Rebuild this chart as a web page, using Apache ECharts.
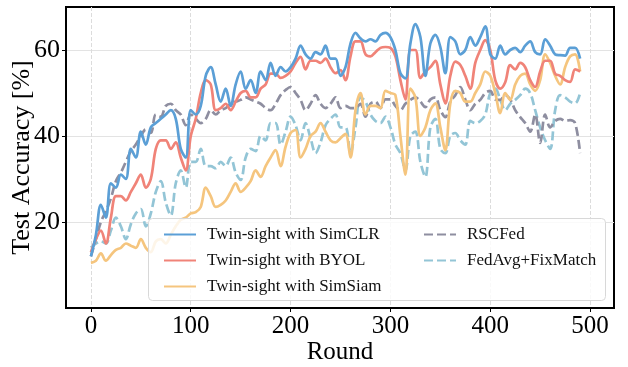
<!DOCTYPE html>
<html>
<head>
<meta charset="utf-8">
<script src="https://cdn.jsdelivr.net/npm/echarts@6/dist/echarts.min.js"></script>
<style>
html,body{margin:0;padding:0;background:#fff;}
#chart{width:628px;height:367px;}
</style>
</head>
<body>
<div id="chart"></div>
<script>
// Rounds (every 5 rounds)
const rounds = [];
for (let r = 0; r <= 490; r += 5) rounds.push(r);

const xTicks = [0, 100, 200, 300, 400, 500];
const yTicks = [20, 40, 60];

const simclr = [12,17,24,21,29,28,31,30,37,35,41,38,42,43,44,45,46,44,37,35,
  46,45,47,54,56,52,48,51,47,52,55,51,53,50,55,53,57,54,56,55,
  56,58,61,59,58,59.5,59,61,58,58,54,56,61.5,64,62.7,62,62.5,62,63.5,64,
  63,60,54.6,53.4,61.5,66,63,54,61.5,63.5,60.7,54.6,63,62,59,60,63,61,63,65.5,
  59,58,61,59,60,60.5,59.5,61,62,59.5,59,62.5,61,59,58.8,58.7,60.5,60.5,58];

const byol = [13,16,18,15,21,26,26,25,27,29,31,28,30,37,39,39,37,38.5,35,32,
  40,44,50,53,52,46,46.5,47.5,46,48,50,50.5,49,49,51,52,54.5,54.5,53.5,54,
  55,57,58.4,55.5,57.5,57.5,57,58,56,54.6,55.3,53,58.5,62,62,59,58.5,59.5,60.5,60.7,
  60.5,58.5,53,48.5,60,60,53.5,55,56,57.5,52,47.6,54,57.3,56.5,54,51,57,60,62.3,
  60,53,51,52.5,56.5,55.5,57,56,53,51.4,55,57.5,57.5,54.5,54,53,52.6,55.5,55];

const simsiam = [10.5,11,12.7,11,12.3,13.5,14,15,14.5,14,16,14,13,15.5,16,15,17,19,20.5,21,
  22,22.3,23.5,28,26,23.5,24,25,27,29,27,28,29.5,32,30.5,33,35,36.7,33,37.5,
  40.7,41.4,35,37,40,41,43,41,39,38.5,39.5,40.5,35,46,50,45,47,47,46.5,50.5,
  50,49.5,40,31,51,49,40,42,46,47.6,42,36.7,47.6,50.5,50,48,48,50,52,55,
  54,50,45.3,50,48.4,52,54,54.5,52,50.5,53,59,57,54,52,56,58.5,59,55];

const rscfed = [12,16,20,22.5,25.5,29.5,31.5,34,36.5,38,40,41.5,40.7,45,44.5,47,47.5,46,45,42.5,
  45,44,43,44,46,45,46,46.5,47.5,48,48.4,49,48.5,48,47.5,46.5,46,47.5,49.5,50.7,
  51.4,50,48.4,46,47.5,49.5,47.5,46.5,47.5,49,46.5,47,46.5,46.5,47.5,44.5,47.5,48,46.5,48.5,
  48.5,47,46,47.5,48.4,49,48,46.7,48.5,49,46,44.4,48,49.5,51.4,48.5,46,47.5,48.4,50,
  50.5,48.5,48.4,49.5,48.5,46,44.4,43,41,45,38.4,45,42,43.5,44,43.5,43.7,43,36];

const fedavg = [14,15,15.5,15,18,21,19,16,19.5,22,23,19,22,27,29.5,24.5,21.5,29,32,28,
  34,34,37,33,33,32.5,34,33,35,31.5,29.8,35,37,36.5,40,39,43,43,38,41,
  44.5,42.5,39,43,39.5,36,38.5,42.5,44,45,42,42,36,42,49,48,45,43.5,43,44.5,
  42,38,36,32,40,41,34,30.5,42,44,37,36,40,40.7,39,38,43.5,43,43.5,45,
  50,51,48.5,46,47.5,48.4,49.5,51,50,46,42,39,37,46,49.5,49,48,47.6,50];

const seriesNames = ['Twin-sight with SimCLR','Twin-sight with BYOL','Twin-sight with SimSiam','RSCFed','FedAvg+FixMatch'];
const seriesColors = ['#5b9fd6','#f08378','#f5c57e','#8e8ea0','#93c5d6'];

const pair = arr => rounds.map((r, i) => [r, arr[i]]);
const serif = 'Liberation Serif';

const chart = echarts.init(document.getElementById('chart'), null, {renderer: 'canvas'});

function mk(name, data, color, dashed, z) {
  return {
    name: name, type: 'line', data: pair(data), smooth: 0.35,
    showSymbol: false, symbol: 'none', z: z,
    lineStyle: {color: color, width: 2.7, type: dashed ? [9, 4] : 'solid'},
    itemStyle: {color: color},
    emphasis: {disabled: true}
  };
}

const legendCommon = {
  orient: 'vertical', top: 221, z: 60,
  itemWidth: 32, itemHeight: 16, itemGap: 9,
  itemStyle: {opacity: 0},
  textStyle: {fontFamily: serif, fontSize: 17, color: '#111', padding: [0, 0, 0, 6]}
};

chart.setOption({
  animation: false,
  grid: {left: 66, right: 14, top: 7, bottom: 59, outerBoundsMode: 'none', containLabel: false,
    show: true, borderColor: '#000', borderWidth: 2, backgroundColor: 'transparent'},
  xAxis: {
    type: 'value', min: -24.95, max: 523.95,
    name: 'Round', nameLocation: 'middle', nameGap: 32, nameMoveOverlap: false,
    nameTextStyle: {fontFamily: serif, fontSize: 25, color: '#000'},
    axisLine: {show: true, onZero: false, lineStyle: {color: '#000', width: 2}},
    axisTick: {show: true, customValues: xTicks, length: 4, lineStyle: {color: '#000'}},
    axisLabel: {customValues: xTicks, fontFamily: serif, fontSize: 25, color: '#000', margin: 6},
    splitLine: {show: true, lineStyle: {color: '#dcdcdc', width: 1, type: [4, 2]}}
  },
  yAxis: {
    type: 'value', min: 0, max: 70,
    name: 'Test Accuracy [%]', nameLocation: 'middle', nameGap: 31, nameMoveOverlap: false,
    nameTextStyle: {fontFamily: serif, fontSize: 26, color: '#000'},
    axisLine: {show: true, onZero: false, lineStyle: {color: '#000', width: 2}},
    axisTick: {show: true, customValues: yTicks, length: 4, lineStyle: {color: '#000'}},
    axisLabel: {customValues: yTicks, fontFamily: serif, fontSize: 26, color: '#000', margin: 6},
    splitLine: {show: true, lineStyle: {color: '#e3e3e3', width: 1}}
  },
  graphic: [{
    type: 'rect', left: 148, top: 218, z: 50,
    shape: {width: 457, height: 82, r: 4},
    style: {fill: 'rgba(255,255,255,0.82)', stroke: '#d8d8d8', lineWidth: 1}
  }],
  legend: [
    Object.assign({data: seriesNames.slice(0, 3), left: 158}, legendCommon),
    Object.assign({data: seriesNames.slice(3), left: 418}, legendCommon)
  ],
  series: [
    mk(seriesNames[4], fedavg, seriesColors[4], true, 2),
    mk(seriesNames[3], rscfed, seriesColors[3], true, 3),
    mk(seriesNames[2], simsiam, seriesColors[2], false, 4),
    mk(seriesNames[1], byol, seriesColors[1], false, 5),
    mk(seriesNames[0], simclr, seriesColors[0], false, 6)
  ]
});
</script>
</body>
</html>
